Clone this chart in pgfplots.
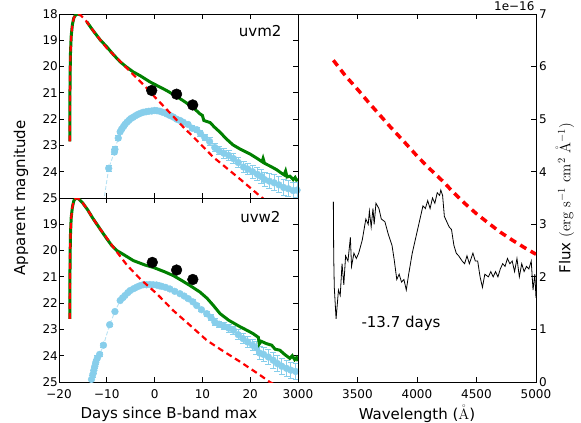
\RequirePackage{fix-cm}
\documentclass[border=0pt]{standalone}
\usepackage[no-math]{fontspec}
\setmainfont{DejaVu Sans}
\usepackage{pgfplots}
\pgfplotsset{compat=1.18}
\definecolor{mgreen}{RGB}{0,128,0}
\definecolor{skyb}{RGB}{135,206,235}
\newcommand{\lbl}{\fontsize{15}{18}\selectfont}
\pgfplotsset{
  myax/.style={
    scale only axis,
    anchor=south west,
    clip mode=individual,
    axis line style={line width=0.9pt},
    every tick/.style={black, line width=0.9pt},
    major tick length=5pt,
    tick label style={font=\fontsize{12}{14}\selectfont, inner sep=1pt},
    xticklabel style={yshift=-6pt},
    label style={font=\lbl, inner sep=1pt},
    /pgf/number format/assume math mode=true,
    /pgf/number format/1000 sep={},
    scaled ticks=false,
  },
  blueline/.style={skyb, opacity=0.6, line width=0.9pt, dash pattern=on 4pt off 2pt, forget plot},
  bluepts/.style={only marks, mark=*, mark size=3.4pt, skyb, mark options={draw=none, fill=skyb},
     error bars/.cd, y dir=both, y explicit, error bar style={skyb, line width=1pt}, error mark options={skyb, line width=1pt, mark size=3pt, rotate=90}},
  greenl/.style={mgreen, line width=3pt, no marks},
  redl/.style={red, line width=2.2pt, dash pattern=on 6pt off 4pt, no marks},
  blk/.style={only marks, mark=*, mark size=5.4pt, black},
}
\begin{document}
\begin{tikzpicture}
\path[use as bounding box] (0pt,0pt) rectangle (581pt,423pt);

% ---------------- top-left : uvm2 ----------------
\begin{axis}[myax, at={(59pt,225pt)}, width=239pt, height=184pt,
  xmin=-20, xmax=30, ymin=18, ymax=25, y dir=reverse,
  xtick={-20,-10,0,10,20,30}, xticklabels={},
  ytick={18,...,25}, xtick pos=both, ytick pos=both, yticklabel pos=left]
\addplot[blueline] table[x=x,y=y] {
x y
-11.8 26.5
-9.6 23.87
-8.4 23.25
-8.3 23.15
-7.6 22.72
-7.2 22.48
-6.9 22.38
-6.5 22.28
-6.2 22.2
-5.8 22.12
-5.4 22.05
-5.0 21.98
-4.5 21.93
-4.0 21.87
-3.5 21.82
-3.0 21.78
-2.4 21.74
-1.8 21.72
-1.2 21.7
-0.6 21.69
0.0 21.67
0.5 21.68
1.1 21.7
1.7 21.74
2.5 21.8
3.2 21.86
3.9 21.92
4.6 22.0
5.3 22.05
6.0 22.12
7.0 22.2
7.9 22.35
8.8 22.4
9.6 22.55
10.5 22.7
11.5 22.85
12.6 23.08
13.5 23.2
14.5 23.3
15.5 23.38
16.5 23.5
17.5 23.65
18.6 23.82
19.5 23.9
20.5 24.0
21.5 24.1
22.3 24.18
23.0 24.3
24.0 24.36
25.0 24.42
26.0 24.5
27.0 24.6
28.0 24.65
29.0 24.72
29.8 24.7
};
\addplot[bluepts] table[x=x,y=y,y error=e] {
x y e
-9.6 23.87 0.12
-8.4 23.25 0.1
-8.3 23.15 0.1
-7.6 22.72 0.08
-7.2 22.48 0.06
-6.9 22.38 0.06
-6.5 22.28 0.05
-6.2 22.2 0.05
-5.8 22.12 0.05
-5.4 22.05 0.05
-5.0 21.98 0.05
-4.5 21.93 0.05
-4.0 21.87 0.05
-3.5 21.82 0.05
-3.0 21.78 0.05
-2.4 21.74 0.05
-1.8 21.72 0.05
-1.2 21.7 0.05
-0.6 21.69 0.05
0.0 21.67 0.05
0.5 21.68 0.05
1.1 21.7 0.05
1.7 21.74 0.06
2.5 21.8 0.06
3.2 21.86 0.06
3.9 21.92 0.07
4.6 22.0 0.07
5.3 22.05 0.08
6.0 22.12 0.08
7.0 22.2 0.09
7.9 22.35 0.1
8.8 22.4 0.1
9.6 22.55 0.12
10.5 22.7 0.12
11.5 22.85 0.14
12.6 23.08 0.15
13.5 23.2 0.16
14.5 23.3 0.18
15.5 23.38 0.18
16.5 23.5 0.2
17.5 23.65 0.2
18.6 23.82 0.22
19.5 23.9 0.22
20.5 24.0 0.25
21.5 24.1 0.25
22.3 24.18 0.25
23.0 24.3 0.28
24.0 24.36 0.28
25.0 24.42 0.3
26.0 24.5 0.3
27.0 24.6 0.3
28.0 24.65 0.3
29.0 24.72 0.3
29.8 24.7 0.3
};
\addplot[greenl] coordinates {
(-17.75,22.85) (-17.72,21.5) (-17.68,20.3) (-17.6,19.5) (-17.45,18.85)
(-17.2,18.4) (-16.9,18.15) (-16.5,18.03) (-16.0,18.0) (-15.5,18.04)
};
\addplot[greenl] coordinates {
(-14.2,18.29) (-13.0,18.6) (-11.4,18.98) (-10.0,19.25) (-8.6,19.55)
(-7.2,19.82) (-6.0,20.0) (-4.5,20.2) (-3.0,20.35) (-1.0,20.58)
(1.0,20.77) (2.5,20.91) (4.0,21.07) (6.0,21.3) (8.0,21.55) (9.5,21.8)
(10.0,21.86) (10.3,22.05) (11.6,22.13) (12.5,22.3) (13.7,22.5) (15.0,22.75)
(16.4,22.98) (18.0,23.15) (20.0,23.33) (21.5,23.5) (22.5,23.62) (22.7,23.5)
(23.0,23.68) (24.3,23.8) (25.5,23.92) (26.5,24.05) (27.1,24.12) (27.4,23.98)
(27.7,24.2) (28.3,24.17) (29.0,24.3) (29.4,24.22) (29.7,24.32) (30.0,24.3)
};
\addplot[redl] coordinates {
(-17.75,22.85) (-17.72,21.5) (-17.68,20.3) (-17.6,19.5) (-17.45,18.85)
(-17.2,18.4) (-16.9,18.15) (-16.5,18.03) (-16.0,18.0) (-15.5,18.04)
(-14.2,18.29) (-13.0,18.6) (-11.4,18.98) (-10.0,19.3) (-8.0,19.65)
(-6.5,19.93) (-4.5,20.3) (-2.0,20.75) (0.0,21.15) (3.0,21.72) (6.0,22.3)
(9.5,22.93) (12.3,23.45) (14.0,23.7) (18.0,24.3) (22.0,24.92) (25.0,25.35)
};
\addplot[blk] coordinates {(-0.6,20.91) (4.6,21.05) (7.97,21.46)};
\node[anchor=base east, font=\lbl, xshift=-13pt, yshift=-22pt] at (axis description cs:1,1) {uvm2};
\end{axis}

% ---------------- bottom-left : uvw2 ----------------
\begin{axis}[myax, at={(59pt,41pt)}, width=239pt, height=184pt,
  xmin=-20, xmax=30, ymin=18, ymax=25, y dir=reverse,
  xtick={-20,-10,0,10,20,30}, xticklabels={−20,−10,0,10,20,},
  ytick={19,...,25}, xtick pos=both, xticklabel pos=bottom, ytick pos=both, yticklabel pos=left,
  xlabel={Days since B-band max},
  xlabel style={at={(axis description cs:0.46,-0.175)}, anchor=center},
  ylabel={Apparent magnitude},
  ylabel style={at={(axis description cs:-0.159,1)}, anchor=center}]
\addplot[blueline] table[x=x,y=y] {
x y
-14.5 26.3
-13.2 24.9
-12.9 24.7
-12.7 24.55
-12.5 24.4
-12.3 24.25
-12.0 24.1
-11.5 23.95
-10.7 23.6
-9.4 22.82
-8.3 22.32
-7.2 21.9
-6.7 21.8
-6.2 21.71
-5.6 21.6
-5.1 21.52
-4.4 21.45
-3.75 21.39
-3.1 21.34
-2.4 21.3
-1.7 21.3
-1.0 21.29
-0.3 21.3
0.4 21.31
1.0 21.34
1.5 21.36
2.3 21.4
3.2 21.46
4.2 21.55
5.3 21.64
6.2 21.73
7.05 21.83
8.0 21.95
8.8 22.09
9.8 22.25
10.9 22.4
11.8 22.55
12.6 22.72
13.5 22.8
14.5 22.88
15.5 22.95
16.5 23.03
17.5 23.2
18.5 23.35
19.5 23.48
20.5 23.6
21.3 23.7
22.0 23.9
22.8 23.95
23.8 24.05
24.8 24.17
25.7 24.3
26.6 24.4
27.6 24.48
28.5 24.55
29.5 24.6
};
\addplot[bluepts] table[x=x,y=y,y error=e] {
x y e
-13.2 24.9 0.15
-12.9 24.7 0.12
-12.7 24.55 0.12
-12.5 24.4 0.1
-12.3 24.25 0.1
-12.0 24.1 0.1
-11.5 23.95 0.08
-10.7 23.6 0.07
-9.4 22.82 0.06
-8.3 22.32 0.05
-7.2 21.9 0.05
-6.7 21.8 0.05
-6.2 21.71 0.05
-5.6 21.6 0.05
-5.1 21.52 0.05
-4.4 21.45 0.05
-3.75 21.39 0.05
-3.1 21.34 0.05
-2.4 21.3 0.05
-1.7 21.3 0.05
-1.0 21.29 0.05
-0.3 21.3 0.05
0.4 21.31 0.05
1.0 21.34 0.05
1.5 21.36 0.05
2.3 21.4 0.05
3.2 21.46 0.05
4.2 21.55 0.06
5.3 21.64 0.06
6.2 21.73 0.06
7.05 21.83 0.07
8.0 21.95 0.07
8.8 22.09 0.08
9.8 22.25 0.08
10.9 22.4 0.1
11.8 22.55 0.1
12.6 22.72 0.12
13.5 22.8 0.12
14.5 22.88 0.14
15.5 22.95 0.15
16.5 23.03 0.16
17.5 23.2 0.18
18.5 23.35 0.2
19.5 23.48 0.2
20.5 23.6 0.22
21.3 23.7 0.25
22.0 23.9 0.25
22.8 23.95 0.28
23.8 24.05 0.3
24.8 24.17 0.3
25.7 24.3 0.3
26.6 24.4 0.3
27.6 24.48 0.3
28.5 24.55 0.3
29.5 24.6 0.3
};
\addplot[greenl] coordinates {
(-17.75,22.6) (-17.72,21.3) (-17.68,20.2) (-17.6,19.4) (-17.45,18.75)
(-17.2,18.35) (-16.9,18.1) (-16.5,18.02) (-16.2,18.0) (-15.8,18.05)
(-15.0,18.2) (-14.0,18.45) (-13.0,18.75) (-11.4,19.18) (-10.0,19.55)
(-9.0,19.8) (-7.9,20.0) (-6.5,20.15) (-4.46,20.38) (-2.0,20.55) (-0.27,20.64)
(2.0,20.8) (3.9,20.95) (5.5,21.12) (7.4,21.33) (9.5,21.58) (11.0,21.82)
(12.3,22.09) (13.7,22.4) (15.5,22.65) (17.9,22.9) (19.5,23.05) (20.6,23.16)
(21.7,23.3) (21.9,23.55) (22.3,23.45) (23.4,23.54) (24.5,23.6) (25.2,23.75)
(26.2,23.79) (27.2,23.95) (28.3,24.1) (28.8,24.0) (29.3,24.15) (29.7,24.07) (30.0,24.2)
};
\addplot[redl] coordinates {
(-17.75,22.6) (-17.72,21.3) (-17.68,20.2) (-17.6,19.4) (-17.45,18.75)
(-17.2,18.35) (-16.9,18.1) (-16.5,18.02) (-16.2,18.0) (-15.8,18.05)
(-15.0,18.2) (-14.0,18.45) (-13.0,18.75) (-11.4,19.18) (-10.0,19.52)
(-9.0,19.78) (-7.9,20.05) (-5.8,20.55) (-3.0,21.08) (0.44,21.64) (3.9,22.28)
(7.4,22.84) (10.9,23.41) (13.7,23.75) (17.9,24.23) (22.0,24.73) (24.1,25.0) (30.0,25.6)
};
\addplot[blk] coordinates {(-0.48,20.45) (4.6,20.74) (8.0,21.1)};
\node[anchor=base east, font=\lbl, xshift=-14pt, yshift=-24pt] at (axis description cs:1,1) {uvw2};
\end{axis}

% ---------------- right : spectrum ----------------
\begin{axis}[myax, at={(298pt,41pt)}, width=238pt, height=368pt,
  xmin=3000, xmax=5000, ymin=0, ymax=7,
  xtick={3000,3500,4000,4500,5000}, ytick={0,...,7},
  xtick pos=both, xticklabel pos=bottom, ytick pos=right, yticklabel pos=right,
  yticklabel style={xshift=2pt},
  xlabel={Wavelength ($\mathring{\mathrm{A}}$)},
  xlabel style={at={(axis description cs:0.5,-0.0875)}, anchor=center},
  ylabel={Flux $(\mathrm{erg\ s^{-1}\ cm^{2}\ \mathring{A}^{-1}})$},
  ylabel style={at={(axis description cs:1.122,0.5)}, anchor=center}]
\addplot[red, line width=3.5pt, dash pattern=on 7pt off 5pt, no marks] coordinates {
(3297,6.12) (3400,5.82) (3507,5.55) (3600,5.3) (3773,4.86) (3900,4.55)
(4000,4.3) (4100,4.07) (4221,3.81) (4300,3.62) (4400,3.4) (4500,3.2)
(4613,3.0) (4700,2.85) (4800,2.7) (4900,2.56) (5000,2.43)
};
\addplot[black, line width=0.8pt, no marks] coordinates {
(3297,3.43) (3300,2.4) (3305,1.8) (3320,1.2) (3340,1.75) (3355,1.65) (3370,2.25)
(3385,1.85) (3400,2.4) (3420,2.3) (3440,2.75) (3450,2.2) (3470,2.45) (3490,2.35)
(3510,2.45) (3540,2.7) (3570,3.1) (3590,3.0) (3600,3.25) (3615,2.95) (3630,3.3)
(3640,3.0) (3655,3.4) (3680,3.3) (3700,3.1) (3730,3.05) (3760,2.8) (3790,2.6)
(3810,2.3) (3830,1.95) (3850,2.05) (3870,1.9) (3890,1.95) (3910,1.75) (3930,2.05)
(3960,2.45) (3990,2.75) (4020,3.05) (4050,3.35) (4070,3.3) (4090,3.45) (4110,3.3)
(4130,3.5) (4150,3.4) (4170,3.6) (4190,3.55) (4200,3.65) (4215,3.55) (4230,3.15)
(4250,3.05) (4270,2.95) (4290,2.9) (4310,2.6) (4330,2.45) (4350,2.4) (4380,2.3)
(4400,2.25) (4420,2.4) (4440,2.25) (4470,2.45) (4490,2.3) (4510,2.3) (4530,2.0)
(4550,1.8) (4570,2.05) (4600,2.0) (4620,2.1) (4640,2.0) (4660,2.1) (4680,2.0)
(4700,2.15) (4720,2.25) (4740,2.2) (4760,2.35) (4780,2.25) (4800,2.3) (4820,2.1)
(4840,2.35) (4860,2.0) (4880,2.25) (4900,2.1) (4920,2.2) (4940,2.15) (4960,2.3)
(4975,1.75) (4990,2.05) (5000,1.6)
};
\node[anchor=base west, font=\lbl] at (axis cs:3504,1.03) {-13.7 days};
\node[anchor=base east, font=\fontsize{12}{14}\selectfont, yshift=3.5pt, xshift=2pt] at (axis description cs:1,1) {1e−16};
\end{axis}
\end{tikzpicture}
\end{document}
